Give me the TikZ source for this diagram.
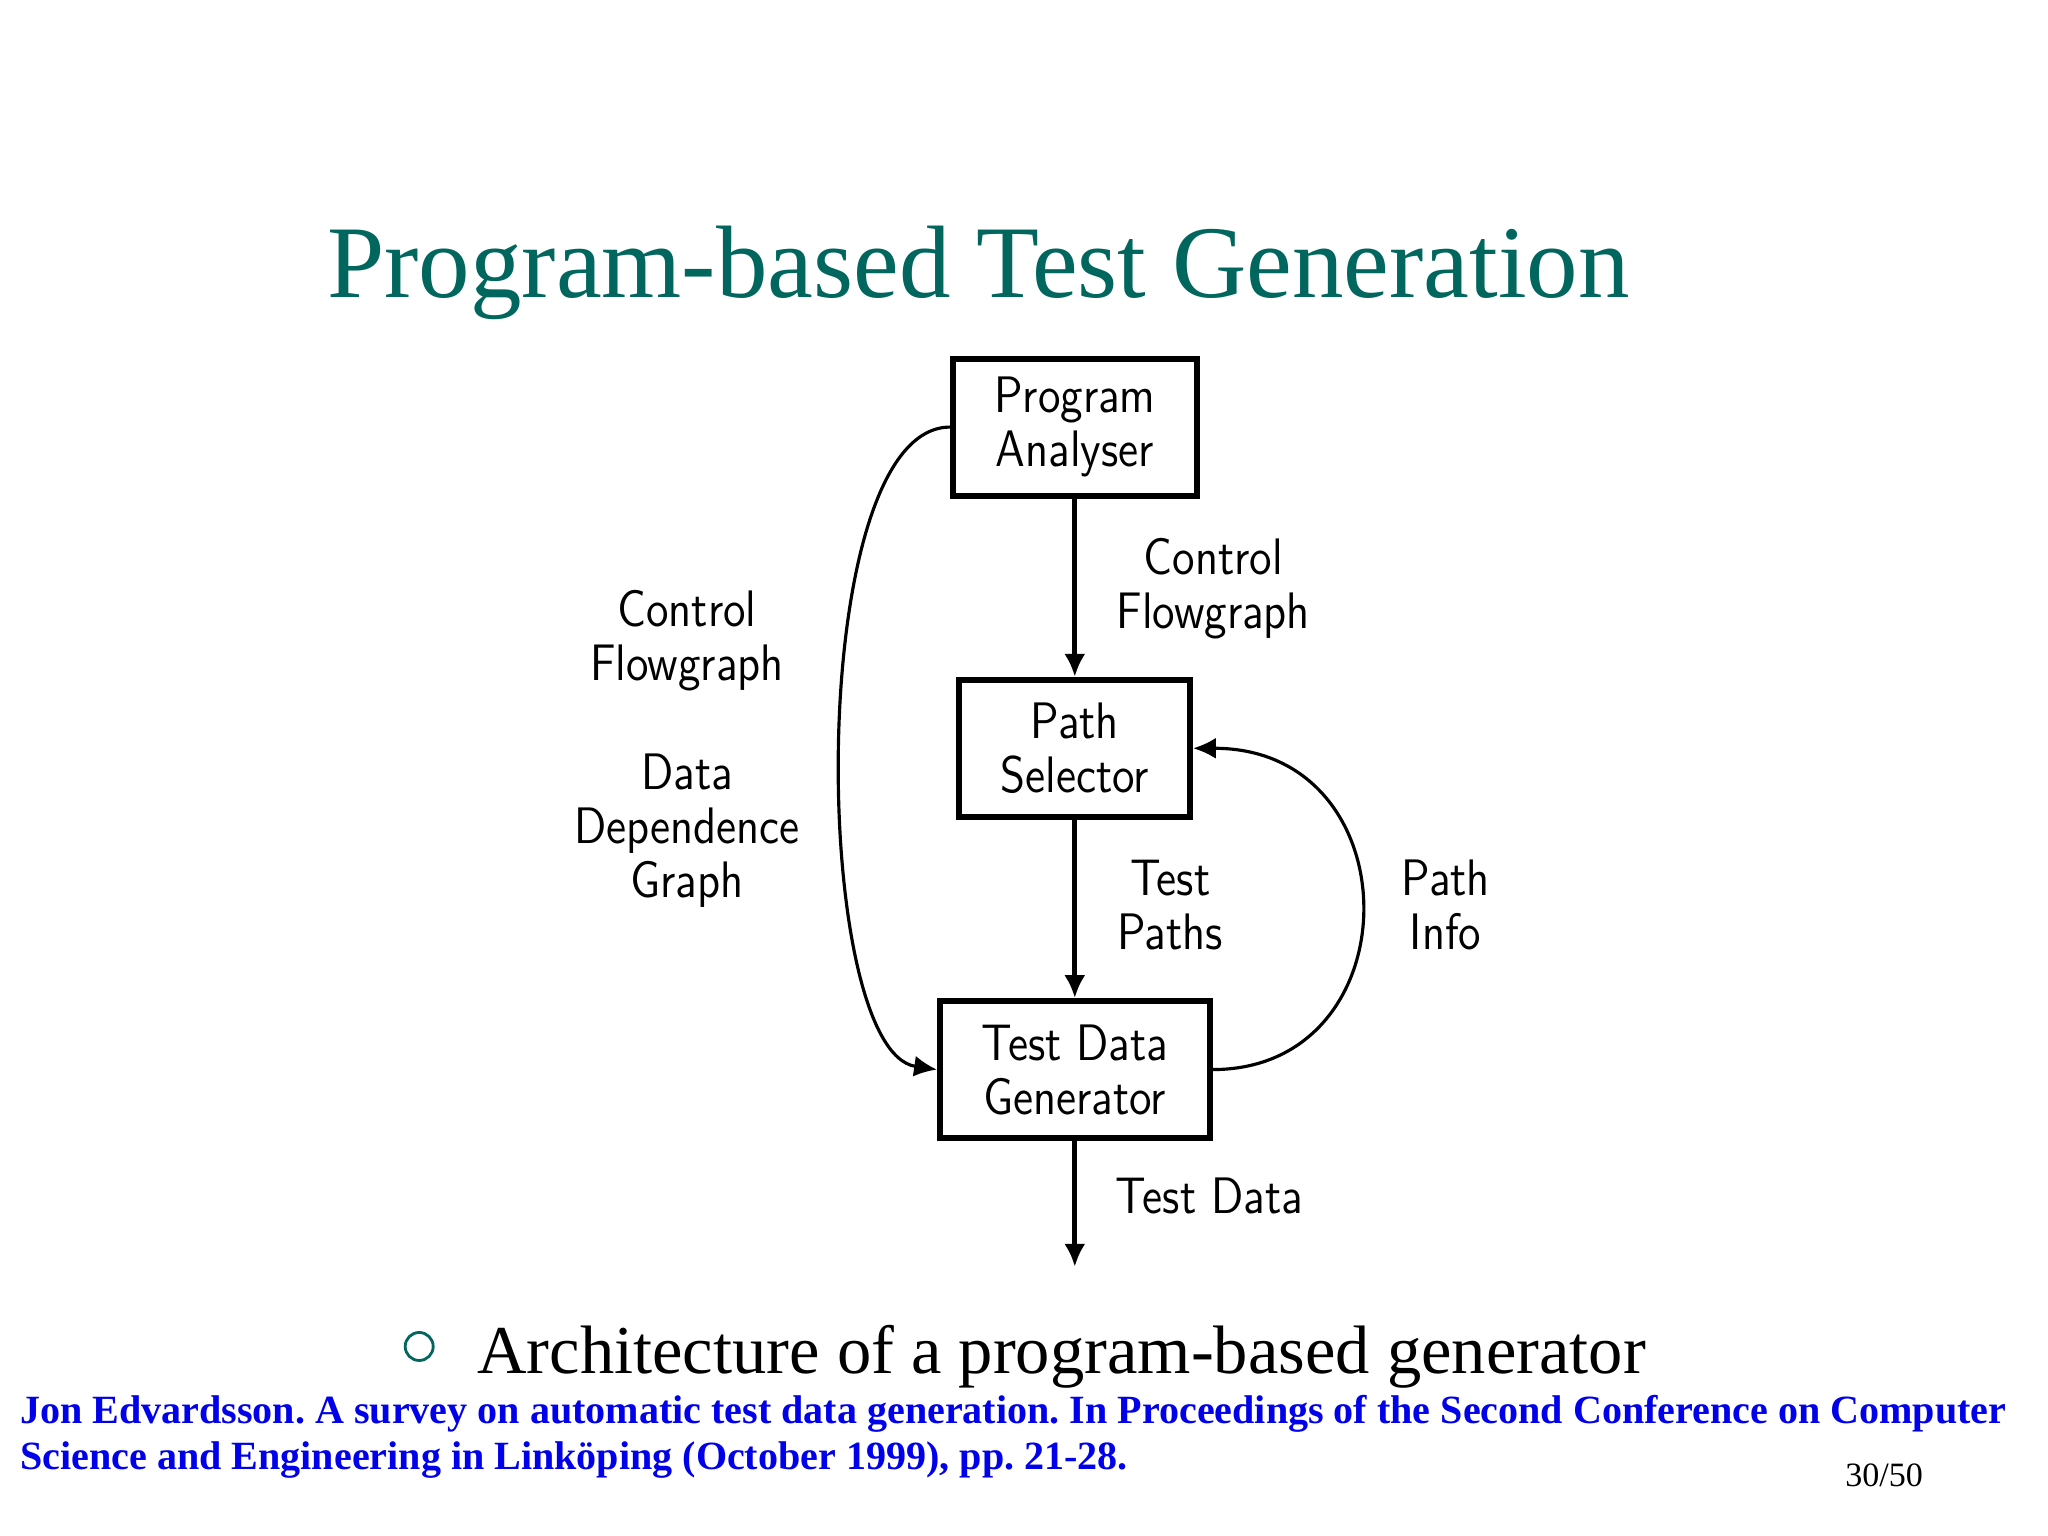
\documentclass[tikz,border=0pt]{standalone}
\usepackage{fontspec}
\newfontfamily\timesfont{Liberation Serif}
\usepackage{tikz}
\usetikzlibrary{arrows.meta,positioning,calc}
\definecolor{titleteal}{RGB}{0,102,94}
\definecolor{refblue}{RGB}{0,0,235}
\tikzstyle{block}=[draw, line width=1.7pt, align=center, xscale=0.895, font=\fontsize{14.6}{15.4}\sffamily, minimum height=1.37cm, inner sep=0pt]
\tikzstyle{flow}=[align=center, xscale=0.895, font=\fontsize{14.6}{15.4}\sffamily]
\tikzstyle{slidetext}=[anchor=base west, inner sep=0pt]
\tikzstyle{reftext}=[slidetext, text=refblue, font=\fontsize{11.4}{13}\timesfont\bfseries]
\tikzstyle{bigarrow}=[->, line width=1.4pt]
\tikzstyle{bendarrow}=[->, line width=0.9pt]

\begin{document}
\frenchspacing
\begin{tikzpicture}[>={Latex[length=6.5pt,width=6pt]}]
	\useasboundingbox (0,0) rectangle (20.48,15.36);

	\node[slidetext, text=titleteal, font=\fontsize{29.3}{32}\timesfont] (title) at (3.265,12.382) {Program-based Test Generation};

	\node[block, minimum width=2.728cm] (pa) at (10.748,11.089) {Program\\Analyser};
	\node[block, minimum width=2.583cm] (ps) at ($(pa)+(0,-3.212)$) {Path\\Selector};
	\node[block, minimum width=3.020cm] (tdg) at ($(ps)+(0,-3.213)$) {Test Data\\Generator};
	\coordinate (out) at ($(tdg)+(0,-1.972)$);

	\node[flow] (cf1) at (12.133,9.47) {Control\\Flowgraph};
	\node[flow] (cf2) at (6.870,8.955) {Control\\Flowgraph};
	\node[flow] (ddg) at (6.870,7.055) {Data\\Dependence\\Graph};
	\node[flow] (tp) at (11.702,6.309) {Test\\Paths};
	\node[flow] (pi) at (14.457,6.309) {Path\\Info};
	\node[flow] (td) at (12.094,3.397) {Test Data};

	\draw[bigarrow] (pa) -- (ps);
	\draw[bigarrow] (ps) -- (tdg);
	\draw[bigarrow] (tdg) -- (out);
	\draw[bendarrow] (pa.west) .. controls (8.04,11.089) and (8.1,4.85) .. (tdg.west);
	\draw[bendarrow] (tdg.east) .. controls (14.14,4.664) and (14.14,7.877) .. (ps.east);

	\node[circle, draw=titleteal, line width=0.8pt, minimum size=0.28cm, inner sep=0pt] (bul) at (4.192,1.895) {};
	\node[slidetext, font=\fontsize{19.5}{22}\timesfont] (bt) at (4.767,1.621) {Architecture of a program-based generator};

	\node[reftext] (ref1) at (0.196,1.125) {Jon Edvardsson. A survey on automatic test data generation. In Proceedings of the Second Conference on Computer};
	\node[reftext] (ref2) at (0.196,0.667) {Science and Engineering in Linköping (October 1999), pp. 21-28.};
	\node[anchor=base east, inner sep=0pt, font=\fontsize{9.7}{12}\timesfont] (pg) at (19.237,0.498) {30/50};
\end{tikzpicture}
\end{document}
